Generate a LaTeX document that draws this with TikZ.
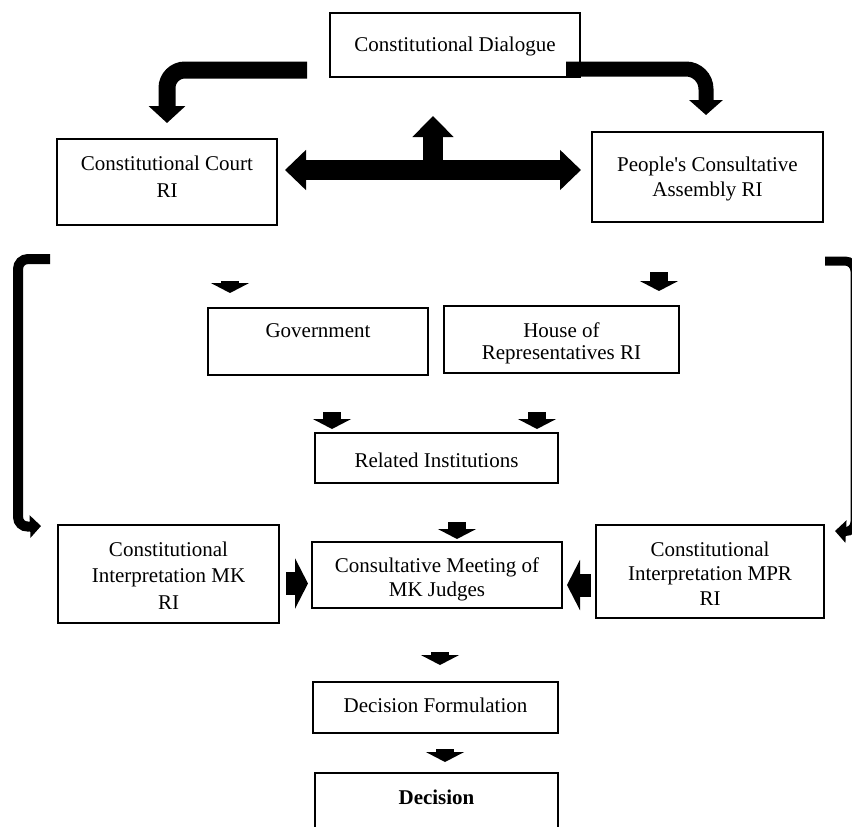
\documentclass[tikz,border=0pt]{standalone}
\usepackage{fontspec}
\setmainfont{Liberation Serif}
\usetikzlibrary{arrows.meta,calc,positioning}

\tikzset{
  box/.style={draw, line width=2pt, inner sep=0pt},
  txt/.style={font=\fontsize{21}{26}\selectfont, align=center, inner sep=0pt, anchor=north},
  curvl/.style={line width=17pt, rounded corners=18pt, -{Triangle[width=36pt,length=17pt]}},
  curvr/.style={line width=15pt, rounded corners=20pt, -{Triangle[width=33pt,length=15pt]}},
  dbl/.style={line width=20pt, {Triangle[width=39pt,length=21pt]}-{Triangle[width=39pt,length=21pt]}},
  uparr/.style={line width=20pt, -{Triangle[width=40pt,length=21pt]}},
  brk/.style={line width=10pt, rounded corners=10pt, -{Triangle[width=22pt,length=11pt]}},
  dn/.style={line width=18pt, -{Triangle[width=38pt,length=10pt]}},
  side/.style={line width=23pt, -{Triangle[width=50pt,length=13pt]}}
}

\begin{document}
\begin{tikzpicture}[x=1pt,y=-1pt]
            \useasboundingbox (0,0) rectangle (852,827);
            \clip (0,0) rectangle (852,827);

            % boxes
            \node[box, minimum width=250, minimum height=64] (dlg) at (455,45) {};
            \node[box, minimum width=220, minimum height=86] (court) at (167,182) {};
            \node[box, minimum width=231, minimum height=90] (people) at (707.5,177) {};
            \node[box, minimum width=220, minimum height=67] (gov) at (318,341.5) {};
            \node[box, minimum width=235, minimum height=67] (house) at (561.5,339.5) {};
            \node[box, minimum width=243, minimum height=50] (rel) at (436.5,458) {};
            \node[box, minimum width=221, minimum height=98] (mk) at (168.5,574) {};
            \node[box, minimum width=250, minimum height=66] (meet) at (437,575) {};
            \node[box, minimum width=228, minimum height=93] (mpr) at (710,571.5) {};
            \node[box, minimum width=245, minimum height=51] (form) at (435.5,707.5) {};
            \node[box, minimum width=243, minimum height=70] (dec) at (436.5,808) {};

            % texts
            \node[txt] (dlgT) at ([yshift=-24.5pt]dlg.north) {Constitutional Dialogue};
            \node[txt, font=\fontsize{21}{27}\selectfont] (courtT) at ([yshift=-17.5pt]court.north) {Constitutional Court\\RI};
            \node[txt, font=\fontsize{21}{25}\selectfont] (peopleT) at ([yshift=-25.5pt]people.north) {People\textquotesingle s Consultative\\Assembly RI};
            \node[txt] (govT) at ([yshift=-16.5pt]gov.north) {Government};
            \node[txt, font=\fontsize{21}{22}\selectfont] (houseT) at ([yshift=-17.5pt]house.north) {House of\\Representatives RI};
            \node[txt] (relT) at ([yshift=-20.5pt]rel.north) {Related Institutions};
            \node[txt, font=\fontsize{21}{26.5}\selectfont] (mkT) at ([yshift=-17.5pt]mk.north) {Constitutional\\Interpretation MK\\RI};
            \node[txt, font=\fontsize{21}{24}\selectfont] (meetT) at ([yshift=-16.5pt]meet.north) {Consultative Meeting of\\MK Judges};
            \node[txt, font=\fontsize{21}{24.5}\selectfont] (mprT) at ([yshift=-17.5pt]mpr.north) {Constitutional\\Interpretation MPR\\RI};
            \node[txt] (formT) at ([yshift=-16.5pt]form.north) {Decision Formulation};
            \node[txt, font=\fontsize{21}{26}\selectfont\bfseries] (decT) at ([yshift=-17.5pt]dec.north) {Decision};

            % top arrows
            \draw[curvl] ([shift={(-22,25)}]dlg.west) -| ([shift={(0,-15)}]court.north);
            \draw[curvr] ([shift={(-15,24)}]dlg.east) -| ([shift={(-1.5,-16)}]people.north);
            \draw[dbl] ([shift={(7,-12)}]court.east) -- ([shift={(-10,-7)}]people.west);
            \coordinate (hub) at (433,170);
            \draw[uparr] (hub) -- ++(0,-54);

            % side brackets
            \coordinate (lstart) at (50,259);
            \coordinate (rstart) at (825,261);
            \draw[brk] (lstart) -- (18,259) -- (18,527) -- ([shift={(-16,2)}]mk.north west);
            \draw[brk, line width=9pt] (rstart) -- (855,261) -- (855,532) -- ([shift={(10,7)}]mpr.north east);

            % small arrows
            \draw[dn] ([shift={(23,-26)}]gov.north west) -- ++(0,12);
            \draw[dn] ([shift={(-21,-33)}]house.north east) -- ++(0,19);
            \draw[dn] ([shift={(18,-20)}]rel.north west) -- ++(0,17);
            \draw[dn] ([shift={(-22,-20)}]rel.north east) -- ++(0,17);
            \draw[dn] ([shift={(20,-19)}]meet.north) -- ++(0,17);
            \draw[dn] ([shift={(4.5,-29)}]form.north) -- ++(0,13);
            \draw[dn] ([shift={(8.5,-23)}]dec.north) -- ++(0,13);

            \draw[side] ([shift={(6,9.5)}]mk.east) -- ([shift={(-3,8.5)}]meet.west);
            \draw[side] ([shift={(-4,13.5)}]mpr.west) -- ([shift={(4,10)}]meet.east);
        \end{tikzpicture}
\end{document}
